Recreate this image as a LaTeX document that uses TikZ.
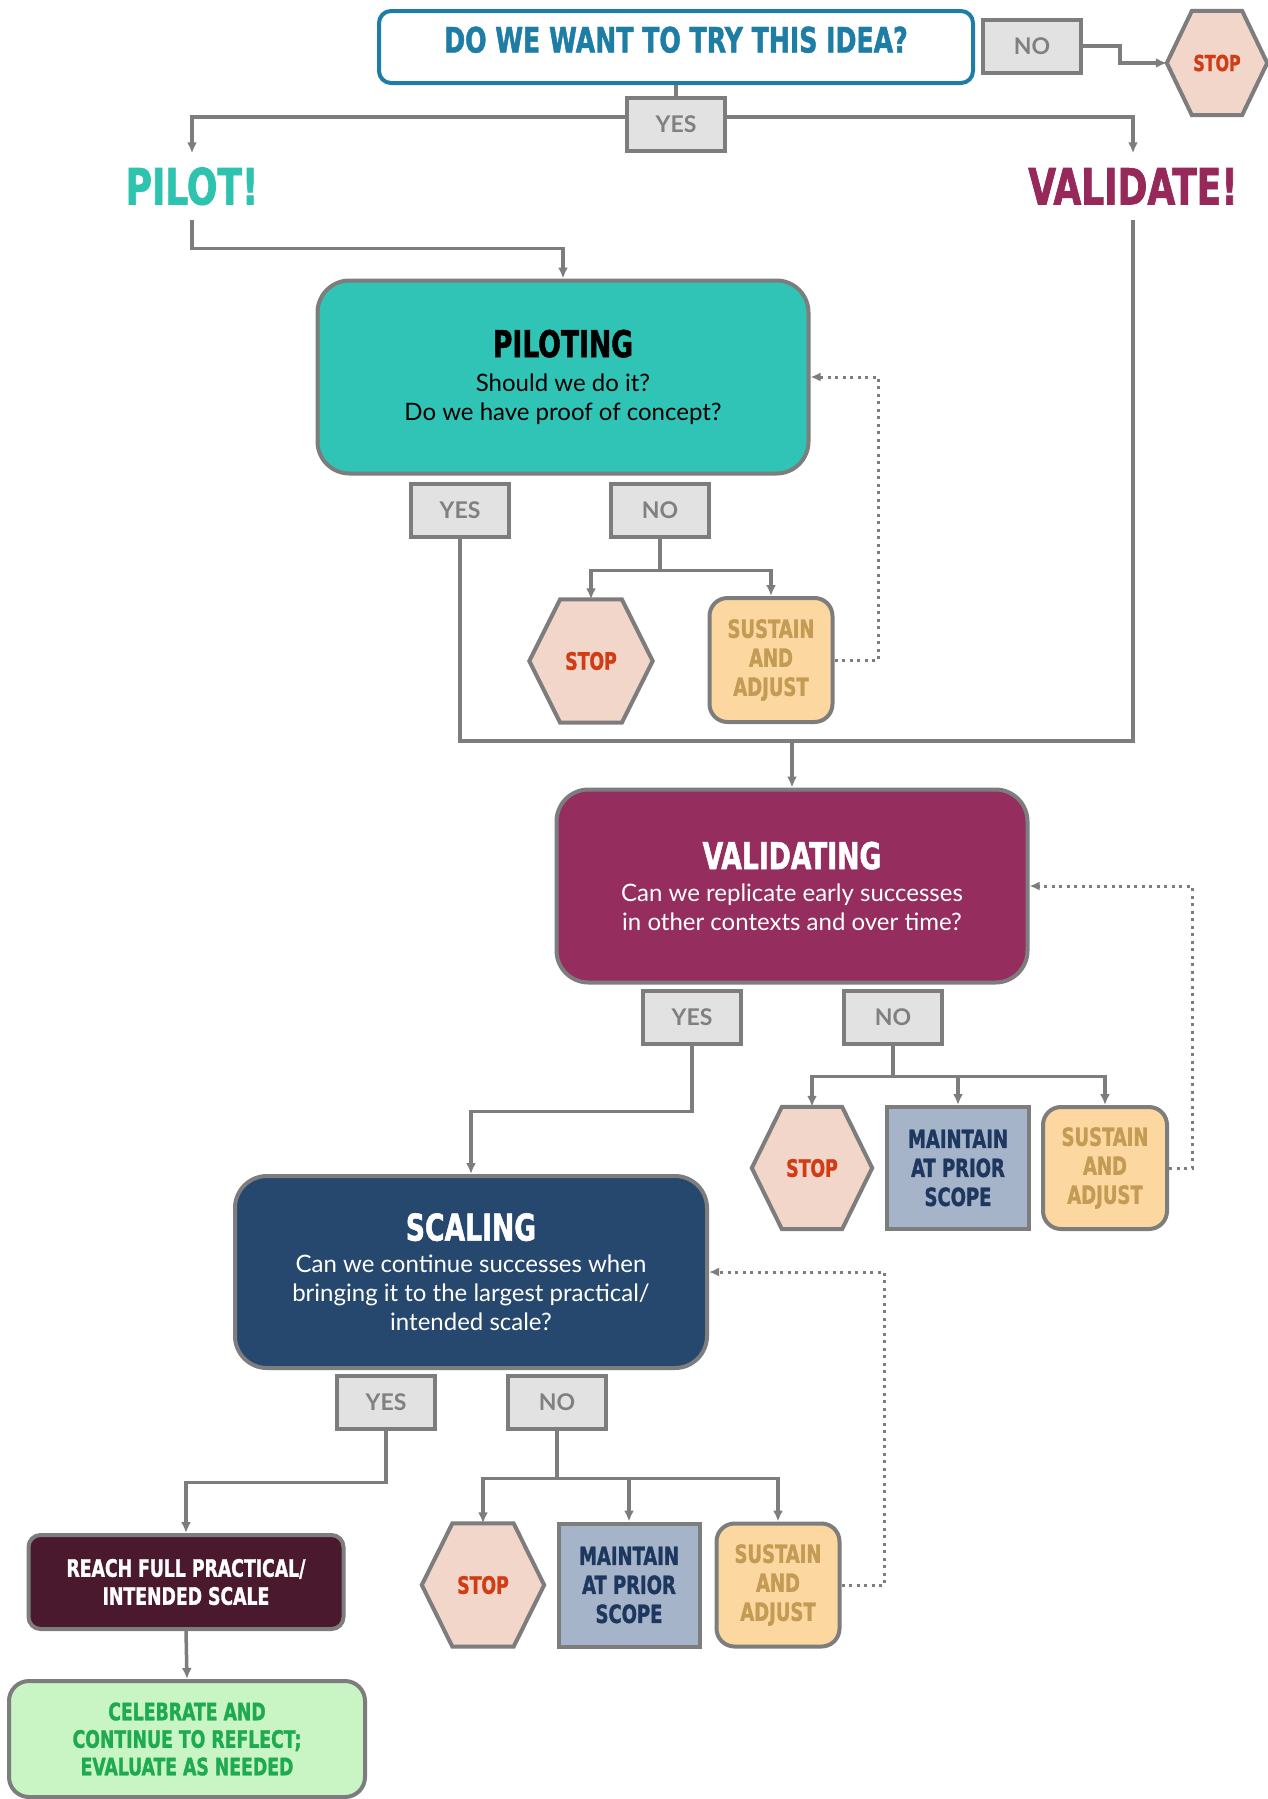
\documentclass[tikz,border=0pt]{standalone}
\usepackage{fontspec}
\usetikzlibrary{arrows.meta,calc,backgrounds}
\newfontfamily\hdf{DejaVu Sans Condensed}[FakeStretch=0.8, BoldFeatures={FakeBold=1.3}]
\newfontfamily\bodyf{Lato}
\definecolor{lgray}{RGB}{125,125,125}
\definecolor{ynfill}{RGB}{226,226,226}
\definecolor{yntxt}{RGB}{128,128,128}
\definecolor{qblue}{RGB}{30,125,165}
\definecolor{pilotc}{RGB}{45,195,175}
\definecolor{pilotfill}{RGB}{47,196,182}
\definecolor{validc}{RGB}{150,40,90}
\definecolor{validfill}{RGB}{150,45,95}
\definecolor{scalefill}{RGB}{38,72,110}
\definecolor{reachfill}{RGB}{75,25,45}
\definecolor{celebfill}{RGB}{200,245,195}
\definecolor{celebtxt}{RGB}{30,170,80}
\definecolor{stopfill}{RGB}{242,214,202}
\definecolor{stoptxt}{RGB}{210,60,20}
\definecolor{susfill}{RGB}{252,215,160}
\definecolor{sustxt}{RGB}{195,155,85}
\definecolor{mainfill}{RGB}{165,180,200}
\definecolor{maintxt}{RGB}{30,55,95}
\newcommand\hexbg[1]{\path[hexst] (#1.west) -- ($(#1.north west)!0.25!(#1.north east)$) -- ($(#1.north west)!0.75!(#1.north east)$) -- (#1.east) -- ($(#1.south west)!0.75!(#1.south east)$) -- ($(#1.south west)!0.25!(#1.south east)$) -- cycle;}
\tikzset{
  ln/.style={draw=lgray, line width=3.5pt},
  arr/.style={ln, -{Latex[length=11pt,width=10pt]}},
  dotarr/.style={draw=lgray, line width=3pt, dash pattern=on 3pt off 4.5pt, -{Latex[length=10pt,width=9pt]}},
  yn/.style={rectangle, draw=lgray, line width=4pt, fill=ynfill, minimum width=98pt, minimum height=53pt, inner sep=0pt, text=yntxt, font=\bodyf\bfseries\fontsize{23}{23}\selectfont},
  big/.style={rectangle, rounded corners=32pt, draw=lgray, line width=4pt, align=center, inner sep=0pt, font=\bodyf\fontsize{24}{29}\selectfont},
  hl/.style={inner sep=0pt, text height=37pt, text depth=0pt, font=\hdf\bfseries\fontsize{50}{50}\selectfont},
  stopnode/.style={rectangle, inner sep=0pt, text=stoptxt, font=\hdf\bfseries\fontsize{24}{24}\selectfont},
  hexst/.style={draw=lgray, line width=4pt, fill=stopfill, line join=miter},
  sus/.style={rectangle, rounded corners=18pt, draw=lgray, line width=4pt, fill=susfill, text=sustxt, align=center, inner sep=0pt, font=\hdf\bfseries\fontsize{25}{29}\selectfont},
  maint/.style={rectangle, draw=lgray, line width=4pt, fill=mainfill, text=maintxt, align=center, inner sep=0pt, font=\hdf\bfseries\fontsize{25}{29}\selectfont},
}
\newcommand\ttlf{\hdf\bfseries\fontsize{37}{37}\selectfont}
\begin{document}
\begin{tikzpicture}[x=1pt,y=-1pt]
\useasboundingbox (0,0) rectangle (1268,1799);

% top question
\node[rectangle, rounded corners=12pt, draw=qblue, line width=4pt, fill=white, minimum width=594pt, minimum height=72pt, inner sep=0pt, text height=25pt, text depth=14pt, text=qblue, font=\hdf\bfseries\fontsize{35}{35}\selectfont] (q) at (676,47) {DO WE WANT TO TRY THIS IDEA?};
\node[yn] (no0) at (1032,46) {NO};
\node[stopnode, minimum width=100pt, minimum height=104pt, font=\hdf\bfseries\fontsize{22}{22}\selectfont] (stop0) at (1217,63) {STOP};
\node[yn] (yes0) at (676,124) {YES};

\node[hl, text=pilotc] (pilot) at (192,186) {PILOT!};
\node[hl, text=validc] (validate) at (1133,186) {VALIDATE!};

% piloting
\node[big, fill=pilotfill, minimum width=491pt, minimum height=193pt, text=black] (piloting) at (563,377)
  {{\ttlf PILOTING}\\[5pt]Should we do it?\\Do we have proof of concept?};
\node[yn] (yes1) at (460,510) {YES};
\node[yn] (no1) at (660,510) {NO};
\node[stopnode, minimum width=123pt, minimum height=123pt] (stop1) at (591,661) {STOP};
\node[sus, minimum width=123pt, minimum height=124pt] (sus1) at (771,660) {SUSTAIN\\AND\\ADJUST};

% validating
\node[big, fill=validfill, minimum width=471pt, minimum height=193pt, text=white] (validating) at (792,886)
  {{\ttlf VALIDATING}\\[3pt]Can we replicate early successes\\in other contexts and over time?};
\node[yn] (yes2) at (692,1017) {YES};
\node[yn] (no2) at (893,1017) {NO};
\node[stopnode, minimum width=120pt, minimum height=122pt] (stop2) at (812,1168) {STOP};
\node[maint, minimum width=142pt, minimum height=122pt] (main2) at (958,1168) {MAINTAIN\\AT PRIOR\\SCOPE};
\node[sus, minimum width=124pt, minimum height=122pt] (sus2) at (1105,1168) {SUSTAIN\\AND\\ADJUST};

% scaling
\node[big, fill=scalefill, minimum width=472pt, minimum height=192pt, text=white] (scaling) at (471,1272)
  {{\ttlf SCALING}\\[3pt]Can we continue successes when\\bringing it to the largest practical/\\intended scale?};
\node[yn] (yes3) at (386,1402) {YES};
\node[yn] (no3) at (557,1402) {NO};
\node[stopnode, minimum width=122pt, minimum height=123pt] (stop3) at (483,1585) {STOP};
\node[maint, minimum width=141pt, minimum height=123pt] (main3) at (629,1585) {MAINTAIN\\AT PRIOR\\SCOPE};
\node[sus, minimum width=123pt, minimum height=123pt] (sus3) at (778,1585) {SUSTAIN\\AND\\ADJUST};

% end
\node[rectangle, rounded corners=12pt, draw=lgray, line width=4pt, fill=reachfill, text=white, align=center, minimum width=315pt, minimum height=94pt, inner sep=0pt, font=\hdf\bfseries\fontsize{24}{28}\selectfont] (reach) at (186,1582) {REACH FULL PRACTICAL/\\INTENDED SCALE};
\node[rectangle, rounded corners=20pt, draw=lgray, line width=4pt, fill=celebfill, text=celebtxt, align=center, minimum width=356pt, minimum height=116pt, inner sep=0pt, font=\hdf\bfseries\fontsize{24}{27.5}\selectfont] (celeb) at (187,1739) {CELEBRATE AND\\CONTINUE TO REFLECT;\\EVALUATE AS NEEDED};

% hexagons
\begin{scope}[on background layer]
\fill[white] (0,0) rectangle (1268,1799);
\hexbg{stop0}
\hexbg{stop1}
\hexbg{stop2}
\hexbg{stop3}
\end{scope}

% connectors
\draw[ln] (q.south) -- (yes0.north);
\draw[arr] (no0.east) -- ++(37,0) |- (stop0.west);
\draw[arr] ([yshift=7pt]yes0.west) -| ([yshift=14pt]pilot.north);
\draw[arr] ([yshift=7pt]yes0.east) -| ([yshift=14pt]validate.north);
\draw[arr] ([yshift=-15pt]pilot.south) -- ++(0,29) -| (piloting.north);

\draw[ln] (no1.south) -- ++(0,32) coordinate (b1);
\draw[arr] (b1) -| (stop1.north);
\draw[arr] (b1) -| (sus1.north);
\draw[dotarr] (sus1.east) -- ++(44,0) |- (piloting.east);

\coordinate (merge) at (792,741);
\draw[ln] ([yshift=-15pt]validate.south) |- (merge);
\draw[ln] (yes1.south) |- (merge);
\draw[arr] (merge) -- (validating.north);

\draw[ln] (no2.south) -- ++(0,31) coordinate (b2);
\draw[arr] (b2) -| (stop2.north);
\draw[arr] (b2) -| (main2.north);
\draw[arr] (b2) -| (sus2.north);
\draw[dotarr] (sus2.east) -- ++(23,0) |- (validating.east);
\draw[arr] (yes2.south) -- ++(0,66) -| (scaling.north);

\draw[ln] (no3.south) -- ++(0,48) coordinate (b3);
\draw[arr] (b3) -| (stop3.north);
\draw[arr] (b3) -| (main3.north);
\draw[arr] (b3) -| (sus3.north);
\draw[dotarr] (sus3.east) -- ++(43,0) |- (scaling.east);
\draw[arr] (yes3.south) -- ++(0,52) -| (reach.north);
\draw[arr] (reach.south) -- (celeb.north);
\end{tikzpicture}
\end{document}
